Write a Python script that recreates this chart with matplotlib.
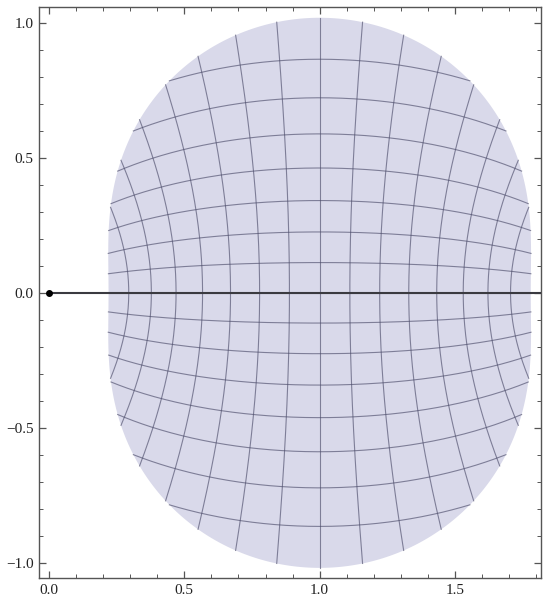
import numpy as np
import matplotlib
matplotlib.use("Agg")
import matplotlib.pyplot as plt
from matplotlib.ticker import MultipleLocator, FuncFormatter

# map w = 1 + sin(z) over the disk |z| <= radius, with a 15 line mesh each way
center = 1.0
radius = 0.895
n_mesh = 15

# real axis line and the marked point
axis_x = [0.0, 2.0]
axis_y = [0.0, 0.0]
point = (0.0, 0.0)

x_limits = (-0.036, 1.817)
y_limits = (-1.058, 1.058)

fill_color = "#d9d9ea"
mesh_color = (0.3, 0.3, 0.42)


def f(z):
    return center + np.sin(z)


def fmt(v, pos):
    return ("%.1f" % v).replace("-", "\u2212")


plt.rcParams['font.family'] = ['Liberation Serif', 'DejaVu Serif']

fig = plt.figure(figsize=(5.5, 6.06), dpi=100)
ax = fig.add_axes([0.0715, 0.0457, 0.9116, 0.9422])

# region
th = np.linspace(0, 2 * np.pi, 600)
w = f(radius * np.exp(1j * th))
ax.fill(w.real, w.imag, color=fill_color, lw=0, zorder=1)

# mesh lines
h = 2 * radius / (n_mesh + 1)
for k in range(-(n_mesh // 2), n_mesh // 2 + 1):
    c = k * h
    s = np.sqrt(radius**2 - c**2)
    t = np.linspace(-s, s, 300)
    wv = f(c + 1j * t)
    ax.plot(wv.real, wv.imag, color=mesh_color, alpha=0.65, lw=0.8, zorder=2)
    wh = f(t + 1j * c)
    ax.plot(wh.real, wh.imag, color=mesh_color, alpha=0.65, lw=0.8, zorder=2)

ax.plot(axis_x, axis_y, color="#3a3a40", lw=1.5, zorder=3)
ax.plot(*point, "o", color="black", ms=4, zorder=4)

ax.set_xlim(*x_limits)
ax.set_ylim(*y_limits)

ax.xaxis.set_major_locator(MultipleLocator(0.5))
ax.xaxis.set_minor_locator(MultipleLocator(0.1))
ax.yaxis.set_major_locator(MultipleLocator(0.5))
ax.yaxis.set_minor_locator(MultipleLocator(0.1))
ax.xaxis.set_major_formatter(FuncFormatter(fmt))
ax.yaxis.set_major_formatter(FuncFormatter(fmt))

ax.tick_params(which="both", direction="in", top=True, right=True,
               color="#555555", labelsize=11, labelcolor="#222222")
ax.tick_params(which="major", length=5, width=0.9, pad=4)
ax.tick_params(which="minor", length=3, width=0.7)
for sp in ax.spines.values():
    sp.set_color("#555555")
    sp.set_linewidth(1.0)

fig.savefig("out.png", dpi=100)
